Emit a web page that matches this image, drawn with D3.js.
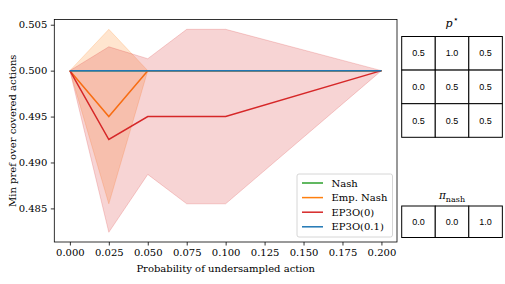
<!DOCTYPE html>
<html>
<head>
<meta charset="utf-8">
<script src="https://cdn.jsdelivr.net/npm/d3@7"></script>
<style>
  body { margin: 0; background: #fff; }
  svg { display: block; }
</style>
</head>
<body>
<div id="chart"></div>
<script>
// x values (probability of undersampled action)
const probs = [0, 0.025, 0.05, 0.075, 0.1, 0.2]
const xTicks = [0, 0.025, 0.05, 0.075, 0.1, 0.125, 0.15, 0.175, 0.2]
const yTicks = [0.485, 0.49, 0.495, 0.5, 0.505]

const nashMean = [0.5, 0.5, 0.5, 0.5, 0.5, 0.5]
const nashStd = [0, 0, 0, 0, 0, 0]
const empMean = [0.5, 0.495, 0.5, 0.5, 0.5, 0.5]
const empStd = [0, 0.0095, 0, 0, 0, 0]
const ep0Mean = [0.5, 0.4925, 0.495, 0.495, 0.495, 0.5]
const ep0Std = [0, 0.0101, 0.0063, 0.0095, 0.0095, 0]
const ep01Mean = [0.5, 0.5, 0.5, 0.5, 0.5, 0.5]
const ep01Std = [0, 0, 0, 0, 0, 0]

const seriesNames = ['Nash', 'Emp. Nash', 'EP3O(0)', 'EP3O(0.1)']
const colors = ['#2ca02c', '#ff7f0e', '#d62728', '#1f77b4']

const pStar = [[0.5, 1.0, 0.5], [0.0, 0.5, 0.5], [0.5, 0.5, 0.5]]
const piNash = [[0.0, 0.0, 1.0]]

const W = 505, H = 284
const PLOT = {LEFT: 54.3, RIGHT: 397, TOP: 19.5, BOTTOM: 242}
const SERIF = "'DejaVu Serif', serif"
const SANS = "'Liberation Sans', Arial, sans-serif"

const svg = d3.select('#chart').append('svg')
    .attr('width', W)
    .attr('height', H)

const x = d3.scaleLinear().domain([-0.01, 0.21]).range([PLOT.LEFT, PLOT.RIGHT])
const y = d3.scaleLinear().domain([0.48134, 0.50557]).range([PLOT.BOTTOM, PLOT.TOP])

const series = [
    {mean: nashMean, std: nashStd},
    {mean: empMean, std: empStd},
    {mean: ep0Mean, std: ep0Std},
    {mean: ep01Mean, std: ep01Std}
].map((s, i) => ({name: seriesNames[i], color: colors[i],
    pts: probs.map((p, j) => ({p, m: s.mean[j], sd: s.std[j]}))}))

const area = d3.area()
    .x(d => x(d.p))
    .y0(d => y(d.m - d.sd))
    .y1(d => y(d.m + d.sd))
const line = d3.line()
    .x(d => x(d.p))
    .y(d => y(d.m))

// band then line, series by series (matplotlib order)
series.forEach(s => {
    svg.append('path')
        .attr('d', area(s.pts))
        .attr('fill', s.color)
        .attr('fill-opacity', 0.2)
        .attr('stroke', s.color)
        .attr('stroke-opacity', 0.2)
        .attr('stroke-width', 1)
    svg.append('path')
        .attr('d', line(s.pts))
        .attr('fill', 'none')
        .attr('stroke', s.color)
        .attr('stroke-width', 1.5)
})

// axes
const xAxis = svg.append('g')
    .attr('transform', `translate(0, ${PLOT.BOTTOM})`)
    .call(d3.axisBottom(x).tickValues(xTicks).tickFormat(d3.format('.3f')).tickSize(3.5).tickPadding(3.5))
const yAxis = svg.append('g')
    .attr('transform', `translate(${PLOT.LEFT}, 0)`)
    .call(d3.axisLeft(y).tickValues(yTicks).tickFormat(d3.format('.3f')).tickSize(3.5).tickPadding(3.5))
;[xAxis, yAxis].forEach(g => {
    g.select('.domain').remove()
    g.selectAll('text').attr('font-family', SERIF).attr('font-size', 10).attr('fill', '#000')
    g.selectAll('line').attr('stroke', '#000').attr('stroke-width', 0.8)
})

// frame
svg.append('rect')
    .attr('x', PLOT.LEFT).attr('y', PLOT.TOP)
    .attr('width', PLOT.RIGHT - PLOT.LEFT).attr('height', PLOT.BOTTOM - PLOT.TOP)
    .attr('fill', 'none').attr('stroke', '#000').attr('stroke-width', 0.8)

svg.append('text')
    .attr('x', (PLOT.LEFT + PLOT.RIGHT) / 2)
    .attr('y', 272)
    .attr('text-anchor', 'middle')
    .attr('font-family', SERIF).attr('font-size', 10)
    .text('Probability of undersampled action')

svg.append('text')
    .attr('transform', `translate(16, ${(PLOT.TOP + PLOT.BOTTOM) / 2}) rotate(-90)`)
    .attr('text-anchor', 'middle')
    .attr('font-family', SERIF).attr('font-size', 10)
    .text('Min pref over covered actions')

// legend
svg.append('rect')
    .attr('x', 297).attr('y', 174).attr('width', 95.5).attr('height', 63)
    .attr('rx', 2)
    .attr('fill', '#fff').attr('fill-opacity', 0.8)
    .attr('stroke', '#ccc').attr('stroke-width', 0.8)
series.forEach((s, i) => {
    const ly = 183 + i * 14.6
    svg.append('line')
        .attr('x1', 302).attr('x2', 323)
        .attr('y1', ly).attr('y2', ly)
        .attr('stroke', s.color).attr('stroke-width', 1.5)
    svg.append('text')
        .attr('x', 331.5).attr('y', ly)
        .attr('dy', '0.35em')
        .attr('font-family', SERIF).attr('font-size', 10)
        .text(s.name)
})

// tables on the right
function drawTable(rows, x0, y0, cw, ch) {
    const g = svg.append('g')
    rows.forEach((row, r) => {
        row.forEach((v, c) => {
            g.append('rect')
                .attr('x', x0 + c * cw).attr('y', y0 + r * ch)
                .attr('width', cw).attr('height', ch)
                .attr('fill', '#fff').attr('stroke', '#000').attr('stroke-width', 1)
            g.append('text')
                .attr('x', x0 + c * cw + cw / 2).attr('y', y0 + r * ch + ch / 2)
                .attr('dy', '0.35em')
                .attr('text-anchor', 'middle')
                .attr('font-family', SANS).attr('font-size', 9)
                .text(v.toFixed(1))
        })
    })
}

drawTable(pStar, 401.7, 36.5, 33.55, 33.6)
drawTable(piNash, 401.7, 206, 33.55, 31.5)

const t1 = svg.append('text')
    .attr('x', 452).attr('y', 26.5)
    .attr('text-anchor', 'middle')
    .attr('font-family', SERIF).attr('font-size', 11)
t1.append('tspan').attr('font-style', 'italic').text('p')
t1.append('tspan').attr('dy', -4.5).attr('font-size', 9).text('⋆')

const t2 = svg.append('text')
    .attr('x', 452).attr('y', 199)
    .attr('text-anchor', 'middle')
    .attr('font-family', SERIF).attr('font-size', 10.5)
t2.append('tspan').attr('font-style', 'italic').text('π')
t2.append('tspan').attr('dy', 2.5).attr('font-size', 8).text('nash')
</script>
</body>
</html>
